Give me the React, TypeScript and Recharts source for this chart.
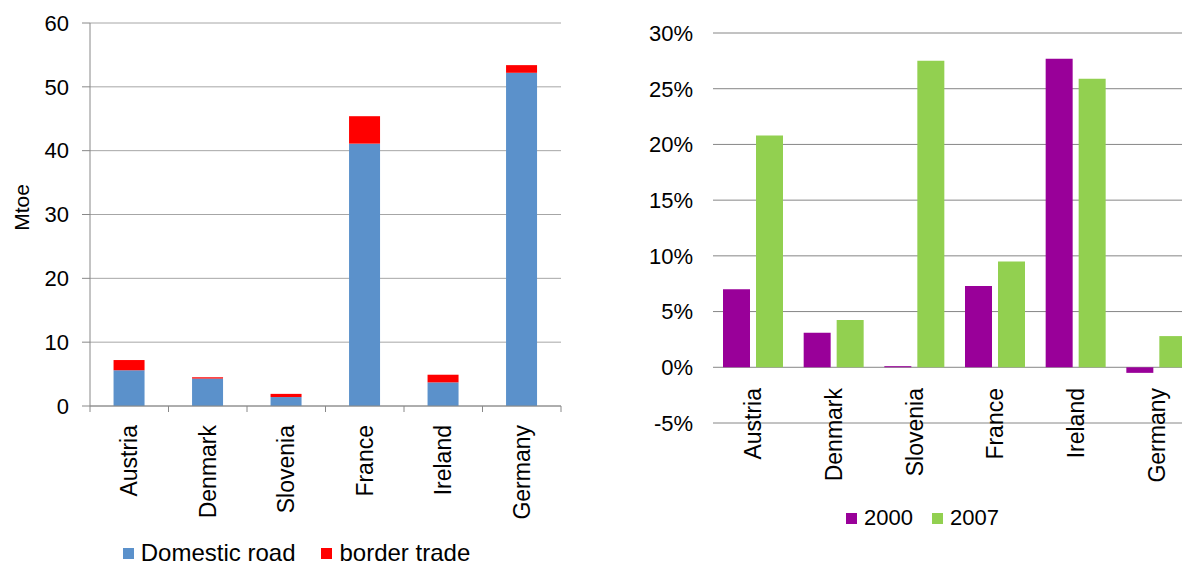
import React from 'react';
import { BarChart, Bar, XAxis, YAxis, CartesianGrid, Legend } from 'recharts';

const FONT = '"Liberation Sans", Arial, sans-serif';

// shared categories
const countries = ['Austria', 'Denmark', 'Slovenia', 'France', 'Ireland', 'Germany'];

// left panel, Mtoe
const domesticRoad = [5.6, 4.3, 1.4, 41.1, 3.7, 52.2];
const borderTrade = [1.6, 0.2, 0.5, 4.3, 1.2, 1.2];
const mtoeTicks = [0, 10, 20, 30, 40, 50, 60];

// right panel, share in %
const share2000 = [7.0, 3.1, 0.1, 7.3, 27.7, -0.5];
const share2007 = [20.8, 4.25, 27.5, 9.5, 25.9, 2.8];
const shareTicks = [-5, 0, 5, 10, 15, 20, 25, 30];

const leftData = countries.map((c, i) => ({
  name: c,
  domestic: domesticRoad[i],
  border: borderTrade[i],
}));

const rightData = countries.map((c, i) => ({
  name: c,
  y2000: share2000[i],
  y2007: share2007[i],
}));

const SquareLegend = ({ payload, gap, fontSize }: any) => (
  <div
    style={{
      display: 'flex',
      justifyContent: 'center',
      fontFamily: FONT,
      fontSize,
      color: '#000',
      lineHeight: '20px',
      whiteSpace: 'nowrap',
    }}
  >
    {(payload || []).map((p: any, i: number) => (
      <span
        key={p.value}
        style={{ display: 'inline-flex', alignItems: 'center', marginLeft: i ? gap : 0 }}
      >
        <span style={{ width: 11, height: 11, background: p.color, marginRight: 7 }} />
        {p.value}
      </span>
    ))}
  </div>
);

// category label + tick marks at the category edges (Excel style)
const LeftTick = (props: any) => {
  const { x, y, payload, index } = props;
  const half = payload.offset ?? 39.25;
  return (
    <g>
      <line x1={x - half} y1={y} x2={x - half} y2={y + 6} stroke="#888" />
      {index === countries.length - 1 && (
        <line x1={x + half} y1={y} x2={x + half} y2={y + 6} stroke="#888" />
      )}
      <text
        transform={`translate(${x},${y + 19}) rotate(-90)`}
        textAnchor="end"
        dy="0.35em"
        fontSize={23}
        fontFamily={FONT}
        fill="#000"
      >
        {payload.value}
      </text>
    </g>
  );
};

// labels sit just under the 0% line, not under the plot bottom
const RightTick = (props: any) => {
  const { x, y, payload } = props;
  return (
    <text
      transform={`translate(${x},${y - 35}) rotate(-90)`}
      textAnchor="end"
      dy="0.35em"
      fontSize={23}
      fontFamily={FONT}
      fill="#000"
    >
      {payload.value}
    </text>
  );
};

const MtoeLabel = ({ viewBox }: any) => {
  const cx = viewBox.x + 22;
  const cy = viewBox.y + viewBox.height / 2 - 7;
  return (
    <text
      transform={`translate(${cx},${cy}) rotate(-90)`}
      textAnchor="middle"
      dy="0.35em"
      fill="#000"
      style={{ fontSize: '21px', fontFamily: FONT }}
    >
      Mtoe
    </text>
  );
};

function MtoeChart() {
  return (
    <BarChart
      width={580}
      height={568}
      data={leftData}
      margin={{ top: 23, right: 19, bottom: 0, left: 0 }}
      barCategoryGap="30%"
    >
      <CartesianGrid vertical={false} stroke="#a6a6a6" />
      <XAxis
        dataKey="name"
        height={162}
        interval={0}
        axisLine={{ stroke: '#888' }}
        tickLine={false}
        tickSize={0}
        tickMargin={0}
        tick={<LeftTick />}
      />
      <YAxis
        domain={[0, 60]}
        ticks={mtoeTicks}
        width={90}
        tickSize={8}
        tickMargin={13}
        axisLine={{ stroke: '#888' }}
        tickLine={{ stroke: '#888' }}
        tick={{ fontSize: 22, fill: '#000', fontFamily: FONT }}
        label={{ value: 'Mtoe', position: 'insideLeft', content: MtoeLabel }}
      />
      <Legend
        layout="horizontal"
        verticalAlign="middle"
        align="center"
        wrapperStyle={{ top: 543, left: 16 }}
        content={(p: any) => <SquareLegend payload={p.payload} gap={26} fontSize={24} />}
      />
      <Bar dataKey="domestic" name="Domestic road" stackId="a" fill="#5b91cb" isAnimationActive={false} />
      <Bar dataKey="border" name="border trade" stackId="a" fill="#ff0000" isAnimationActive={false} />
    </BarChart>
  );
}

function ShareChart() {
  return (
    <BarChart
      width={600}
      height={568}
      data={rightData}
      margin={{ top: 33, right: 3, bottom: 0, left: 0 }}
      barCategoryGap={10}
      barGap={6}
    >
      <CartesianGrid vertical={false} stroke="#868686" />
      <XAxis
        dataKey="name"
        height={145}
        interval={0}
        axisLine={false}
        tickLine={false}
        tickSize={0}
        tickMargin={0}
        tick={<RightTick />}
      />
      <YAxis
        domain={[-5, 30]}
        ticks={shareTicks}
        width={113}
        axisLine={false}
        tickLine={false}
        tickSize={0}
        tickMargin={20}
        tickFormatter={(v: number) => `${v}%`}
        tick={{ fontSize: 22, fill: '#000', fontFamily: FONT }}
      />
      <Legend
        layout="horizontal"
        verticalAlign="middle"
        align="center"
        wrapperStyle={{ top: 508, left: 24 }}
        content={(p: any) => <SquareLegend payload={p.payload} gap={19} fontSize={22} />}
      />
      <Bar dataKey="y2000" name="2000" fill="#990099" isAnimationActive={false} />
      <Bar dataKey="y2007" name="2007" fill="#92d050" isAnimationActive={false} />
    </BarChart>
  );
}

export default function App() {
  return (
    <div
      style={{
        position: 'fixed',
        left: 0,
        top: 0,
        width: 1182,
        height: 568,
        overflow: 'hidden',
        background: '#fff',
      }}
    >
      <div style={{ position: 'absolute', left: 0, top: 0 }}>
        <MtoeChart />
      </div>
      <div style={{ position: 'absolute', left: 600, top: 0 }}>
        <ShareChart />
      </div>
    </div>
  );
}
